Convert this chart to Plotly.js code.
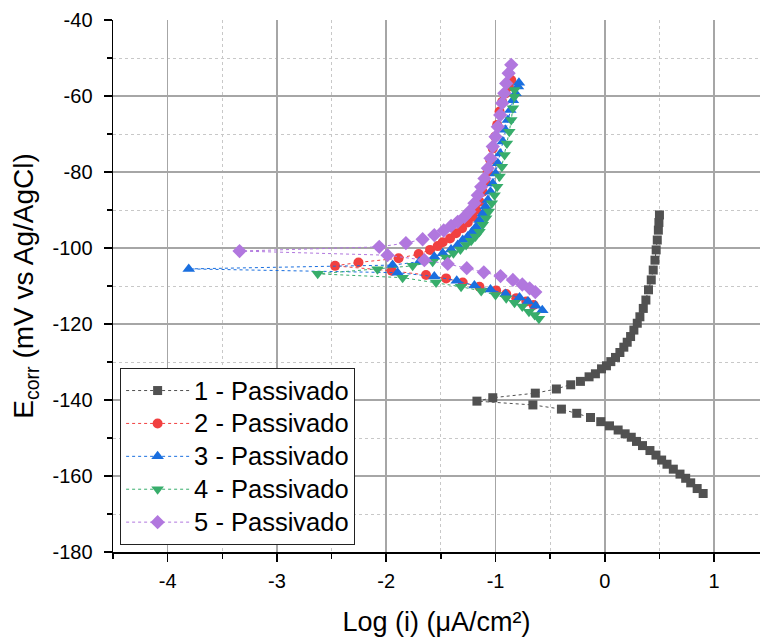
<!DOCTYPE html>
<html>
<head>
<meta charset="utf-8">
<script src="https://cdn.plot.ly/plotly-3.0.1.min.js"></script>
<style>
html,body{margin:0;padding:0;background:#fff;}
#chart{width:760px;height:637px;}
text.legendtext{font-size:25.5px !important;}
</style>
</head>
<body>
<div id="chart"></div>
<script>
// Series names
const names = ["1 - Passivado", "2 - Passivado", "3 - Passivado", "4 - Passivado", "5 - Passivado"];

// Tick labels (hyphen minus as in the reference)
const xTickVals = [-4, -3, -2, -1, 0, 1];
const xTickText = ["-4", "-3", "-2", "-1", "0", "1"];
const yTickVals = [-180, -160, -140, -120, -100, -80, -60, -40];
const yTickText = ["-180", "-160", "-140", "-120", "-100", "-80", "-60", "-40"];

// Series 1 (Log i, E)
const x1 = [0.90, 0.845, 0.786, 0.74, 0.688, 0.627, 0.569, 0.52, 0.468, 0.413, 0.345, 0.29, 0.242, 0.186, 0.122, 0.043, -0.037, -0.131, -0.257, -0.397, -0.658,
  -1.17,
  -1.025, -0.636, -0.443, -0.312, -0.223, -0.144, -0.086, -0.03, 0.015, 0.055, 0.098, 0.138, 0.174, 0.205, 0.236, 0.266, 0.297, 0.321, 0.352, 0.376, 0.40, 0.425, 0.443, 0.459, 0.47, 0.48, 0.49, 0.495, 0.50];
const y1 = [-164.6, -163.3, -161.8, -160.6, -159.5, -158.2, -156.9, -155.8, -154.5, -153.3, -152.0, -150.9, -149.8, -148.9, -147.9, -146.8, -145.7, -144.6, -143.5, -142.4, -141.3,
  -140.3,
  -139.4, -138.2, -137.1, -136.0, -135.1, -133.9, -133.1, -131.8, -131.0, -129.9, -128.8, -127.5, -126.1, -124.8, -123.3, -121.6, -119.8, -118.1, -115.9, -113.7, -111.0, -108.4, -105.8, -103.2, -100.5, -97.9, -95.3, -93.3, -91.3];

// Series 2
const x2 = [-0.651, -0.718, -0.81, -0.902, -0.994, -1.147, -1.30, -1.452, -1.636, -1.95,
  -2.468,
  -2.254, -1.887, -1.703, -1.599, -1.529, -1.483, -1.416, -1.361, -1.306, -1.254, -1.208, -1.177, -1.147, -1.117, -1.092, -1.071, -1.049, -1.025, -1.003, -0.985, -0.963, -0.939, -0.908, -0.878, -0.856];
const y2 = [-115.0, -114.1, -113.2, -112.1, -111.2, -110.2, -109.1, -108.0, -107.1, -106.0,
  -104.7,
  -103.8, -102.7, -101.6, -100.5, -99.5, -98.5, -97.5, -96.1, -94.8, -93.3, -91.8, -90.0, -87.8, -85.2, -82.6, -79.9, -76.8, -73.8, -70.7, -67.6, -64.1, -61.5, -59.3, -57.5, -55.8];

// Series 3
const x3 = [-0.572, -0.633, -0.703, -0.78, -0.908, -1.046, -1.193, -1.355, -1.56, -1.896,
  -3.807,
  -1.942, -1.697, -1.56, -1.483, -1.407, -1.346, -1.30, -1.254, -1.214, -1.177, -1.147, -1.117, -1.092, -1.07, -1.046, -1.025, -1.0, -0.979, -0.957, -0.933, -0.911, -0.887, -0.865, -0.841, -0.817, -0.795, -0.786];
const y3 = [-116.4, -115.2, -114.1, -113.0, -112.1, -110.9, -109.9, -108.6, -107.5, -106.5,
  -105.5,
  -104.5, -103.6, -102.3, -101.4, -100.4, -99.2, -97.9, -97.0, -95.7, -94.4, -92.6, -90.9, -89.1, -87.4, -85.2, -83.0, -80.4, -77.7, -75.1, -72.0, -68.9, -66.3, -63.7, -61.1, -59.3, -57.5, -56.5];

// Series 4
const x4 = [-0.603, -0.642, -0.694, -0.755, -0.826, -0.902, -1.0, -1.131, -1.315, -1.544, -1.85,
  -2.627,
  -2.08, -1.758, -1.575, -1.452, -1.385, -1.321, -1.269, -1.223, -1.183, -1.147, -1.117, -1.086, -1.061, -1.034, -1.009, -0.985, -0.963, -0.942, -0.917, -0.896, -0.874, -0.856, -0.841, -0.828, -0.826];
const y4 = [-118.6, -117.6, -116.8, -115.4, -114.4, -113.2, -112.4, -111.3, -110.2, -109.1, -107.8,
  -106.8,
  -105.6, -104.7, -103.6, -102.5, -101.4, -100.4, -99.2, -98.1, -97.0, -95.7, -93.9, -92.2, -90.4, -88.2, -86.1, -83.9, -81.2, -78.6, -75.5, -72.5, -69.4, -66.3, -63.2, -60.2, -58.4];

// Series 5
const x5 = [-0.636, -0.688, -0.755, -0.841, -0.954, -1.107, -1.263, -1.437, -1.651, -1.988,
  -3.342,
  -2.064, -1.82, -1.667, -1.56, -1.474, -1.407, -1.346, -1.284, -1.239, -1.193, -1.162, -1.131, -1.101, -1.07, -1.046, -1.025, -1.0, -0.979, -0.957, -0.939, -0.92, -0.902, -0.88, -0.856];
const y5 = [-111.6, -110.6, -109.6, -108.4, -107.4, -106.4, -105.3, -104.2, -103.2, -101.9,
  -100.8,
  -99.7, -98.7, -97.7, -96.6, -95.4, -94.2, -93.1, -91.8, -90.4, -88.2, -86.1, -83.9, -81.7, -79.0, -76.4, -73.3, -70.7, -68.1, -65.0, -61.9, -59.3, -56.7, -54.0, -51.8];

const xs = [x1, x2, x3, x4, x5];
const ys = [y1, y2, y3, y4, y5];
const colors = ["#515151", "#F14040", "#1A6FDF", "#37AD6B", "#B177DE"];
const symbols = ["square", "circle", "triangle-up", "triangle-down", "diamond"];
const sizes = [9, 10, 11, 11, 11];

const traces = xs.map((x, i) => ({
  x: x, y: ys[i], name: names[i], type: "scatter", mode: "lines+markers",
  line: {color: colors[i], width: 1, dash: "dot"},
  marker: {color: colors[i], symbol: symbols[i], size: sizes[i]}
}));

const fontFam = "Liberation Sans, Arial, sans-serif";

const layout = {
  width: 760, height: 637,
  margin: {l: 113, r: 0, t: 20, b: 85},
  paper_bgcolor: "#fff", plot_bgcolor: "#fff",
  font: {family: fontFam, color: "#000"},
  showlegend: true,
  xaxis: {
    range: [-4.5, 1.42], tickmode: "array", tickvals: xTickVals, ticktext: xTickText,
    ticks: "outside", ticklen: 8, tickwidth: 1.5, tickcolor: "#000",
    showline: true, linecolor: "#000", linewidth: 1.5, zeroline: false,
    showgrid: true, gridcolor: "#a6a6a6", gridwidth: 1.5,
    tickfont: {size: 20, family: fontFam}, ticklabelstandoff: 2,
    title: {text: "Log (i) (μA/cm²)", font: {size: 27, family: fontFam}, standoff: 22},
    automargin: false,
    minor: {dtick: 0.5, ticks: "outside", ticklen: 5, tickwidth: 1.5, tickcolor: "#000", showgrid: true, gridcolor: "#c8c8c8", gridwidth: 1, griddash: "dot"}
  },
  yaxis: {
    range: [-180, -40], tickmode: "array", tickvals: yTickVals, ticktext: yTickText,
    ticks: "outside", ticklen: 8, tickwidth: 1.5, tickcolor: "#000",
    showline: true, linecolor: "#000", linewidth: 1.5, zeroline: false,
    showgrid: true, gridcolor: "#a6a6a6", gridwidth: 1.5,
    tickfont: {size: 20, family: fontFam}, ticklabelstandoff: 7,
    title: {text: "E<sub>corr</sub> (mV vs Ag/AgCl)", font: {size: 28, family: fontFam}, standoff: 10},
    automargin: false,
    minor: {dtick: 10, ticks: "outside", ticklen: 5, tickwidth: 1.5, tickcolor: "#000", showgrid: true, gridcolor: "#c8c8c8", gridwidth: 1, griddash: "dot"}
  },
  legend: {
    x: 0.011, y: 0.013, xanchor: "left", yanchor: "bottom",
    bgcolor: "#fff", bordercolor: "#222", borderwidth: 1,
    font: {size: 23, family: fontFam},
    itemwidth: 63, tracegroupgap: 0
  }
};

Plotly.newPlot("chart", traces, layout, {displayModeBar: false, staticPlot: true});
</script>
</body>
</html>
